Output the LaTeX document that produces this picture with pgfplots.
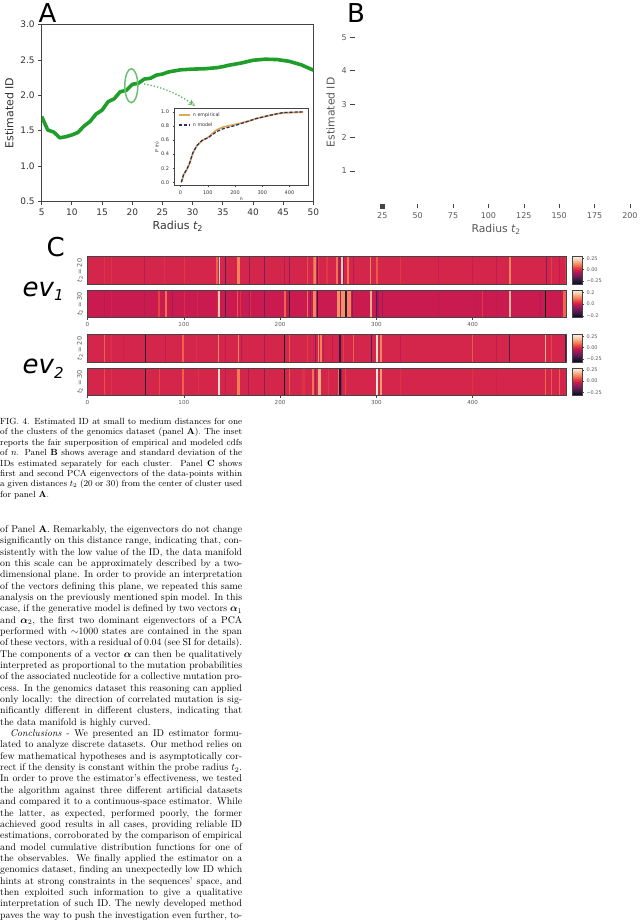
\documentclass[border=0pt]{standalone}
\usepackage{amsmath}
\usepackage{fontspec}
\usepackage{pgfplots}
\pgfplotsset{compat=1.18}
\usetikzlibrary{arrows.meta}
\newfontfamily\djs{DejaVu Sans}
\newcommand\djo{\djs\itshape}
\definecolor{lgreen}{HTML}{1F9E2A}
\definecolor{pgreen}{HTML}{6DBF74}
\definecolor{golden}{HTML}{D8AC55}
\definecolor{navy1}{HTML}{2B2A6E}
\definecolor{spine}{HTML}{444444}
\definecolor{gtext}{HTML}{333333}
\definecolor{btext}{HTML}{595959}
\pgfplotsset{colormap={rocket}{rgb255=(3,5,26) rgb255=(34,19,49) rgb255=(69,28,71) rgb255=(112,31,87) rgb255=(158,26,91) rgb255=(203,27,79) rgb255=(232,63,63) rgb255=(243,118,81) rgb255=(246,164,124) rgb255=(246,208,181) rgb255=(250,235,221)}}
\newcommand\fsz[1]{\fontsize{#1}{#1}\selectfont}
\newcommand\ttwo[1]{{\djo t}\raisebox{-0.18em}{\fsz{#1}2}}
\newcommand\mkstripes[2]{\gdef#1{}\foreach \x/\c in {#2}{\xdef#1{#1 (\x,0) [\c] (\x,1) [\c]}}}
\mkstripes\rowA{0/0,17/.02,18/0,25/.02,26/0,59/-.04,60/0,80/.02,81/0,100/.03,101/0,134/.08,135.5/0,136.5/.25,138/0,143/-.17,144.5/0,155/.12,159/0,167.5/-.1,169/0,184/-.13,185/0,204/-.05,205.5/0,210/-.1,211/0,228/.06,229/0,234/.08,235.5/.12,238/0,239/-.15,240/.03,241/0,248/.03,250/0,258/.1,260.5/-.05,263/-.25,264/.22,265.5/-.1,266.5/0,270/.1,271.5/0,276/-.05,277/0,294/.13,295/0,299.5/.07,301.5/0,325/.03,326/0,364/-.02,365/0,400/-.02,401/0,424/-.03,425/0,437.5/.12,440.5/0,476/-.13,477/0,482/.04,483/0,490/-.03,491/0,496/.03,497.7/0}
\mkstripes\rowB{0/0,17/-.015,18/0,25/.015,26/0,59/-.024,60/0,73.5/.05,75/0,81/.09,82.5/0,88/-.04,89/0,100/.024,101/0,114/.015,115/0,134.5/.024,136/.18,138/0,143/-.12,144.5/0,155/.07,156.5/0,158.5/.03,159.5/0,167.5/-.05,169/.03,170/0,184/-.08,185/0,204/.08,206/0,210/-.16,211/0,228/.09,229.5/0,231/-.055,232.5/0,234/.11,238/0,239/-.16,240/0,259.5/.12,262/-.04,263/-.22,264/.12,267.5/0,268/-.16,269.5/.11,273.5/0,275/-.06,276/0,294/.15,295.5/0,300/-.12,301/-.04,303/0,306/-.05,307/0,364/-.015,365/0,402.5/-.015,404/0,410/.04,411/0,424/-.015,425/0,437.5/.16,440.3/0,470/-.025,471/0,475.5/-.23,476.5/0,491/-.015,492/0,494.5/.08,497.7/0}
\mkstripes\rowC{0/0,17/.08,18/0,25/.02,26/0,37/-.01,38/0,60/-.25,61/0,81/-.03,82/0,98/.08,100/0,113/.02,114/0,135.5/.13,137/0,143/-.03,144/0,156/.12,158/0,159.5/-.05,160.5/0,184/-.07,185/0,204/-.3,205.5/0,210/.07,211/0,228/.04,229/0,236/-.1,237.5/0,239.5/.14,241/0,242/.12,243.5/0,244.5/-.03,245.5/0,254/-.03,255/0,261/-.22,263/0,266/.04,267/0,276/.08,277/0,295/-.18,296/0,299.5/.26,302/0,304.5/.12,306/0,325/-.03,326/0,400/.07,401/0,424/-.03,425/0,438/-.18,439.5/0,475.5/.18,476.5/0,482/.05,483/0,496/-.2,497.7/0}
\mkstripes\rowD{0/0,17/.06,18/0,25/.02,26/0,60/-.25,61/0,74/.05,75.5/0,98/.08,100/0,115/.02,116/0,136/.25,137.5/0,143/-.03,144/0,155/.11,158.5/0,167/-.06,168/0,184/-.1,185/0,204/-.3,205.5/0,210/.07,211/0,223/.02,226/0,233/.1,235/0,236.5/-.08,238/0,239.5/.17,243/0,250/.03,251/0,260/.1,261.5/-.27,263.5/-.08,264.5/0,268/.05,269/0,299.5/.28,301.5/0,304.5/.15,306/0,325/.02,326/0,400/.02,401/0,424/-.01,425/0,475.5/.09,476.5/0,482/.07,483/0,490/.08,491/0,497.7/0}
\def\hmplot#1{\addplot[surf,shader=flat corner,mesh/ordering=y varies,mesh/rows=2,point meta=explicit] coordinates {#1};}
\pgfplotsset{hm/.style={scale only axis,width=479.2pt,height=27.5pt,xmin=0,xmax=497.7,ymin=0,ymax=1,
  ytick=\empty,axis on top,axis line style={draw=spine,line width=.9pt},
  xtick=\empty,tick align=outside,major tick length=2.2pt,
  tick style={draw=spine,line width=.4pt},
  xtick pos=bottom,
  x tick label style={font=\djs\fsz{5.6},text=btext,yshift=1.5pt},
  /pgf/number format/assume math mode=true,
  colormap name=rocket,
  ylabel style={font=\djs\fsz{6.5},text=btext,at={(-0.008,0.5)},anchor=south,yshift=-3pt},
  colorbar,
  colorbar style={at={(1.0125,0)},anchor=south west,scale only axis,width=9.3pt,height=27.5pt,
    axis line style={draw=spine,line width=.7pt},
    ytick pos=right,tick align=outside,
    major tick length=2pt,tick style={draw=spine,line width=.4pt},
    y tick label style={font=\djs\fsz{5},text=btext,xshift=-1pt},
    yticklabel pos=right,
  },
}}
\newcommand\tl[3][0]{\node[anchor=base west,inner sep=0pt] at (#1pt,-#2pt) {\makebox[\dimexpr242pt-#1pt\relax][s]{#3}};}
\newcommand\tn[2]{\node[anchor=base west,inner sep=0pt] at (0pt,-#1pt) {#2};}
\begin{document}
\begin{tikzpicture}
\path[use as bounding box] (0pt,0pt) rectangle (640pt,-922pt);
% Panel A
\begin{axis}[at={(41.7pt,-201.5pt)},anchor=south west,scale only axis,width=271.7pt,height=177pt,
  xmin=5,xmax=50,ymin=0.5,ymax=3,xtick={5,10,...,50},ytick={0.5,1,...,3},
  y tick label style={/pgf/number format/fixed,/pgf/number format/fixed zerofill,/pgf/number format/precision=1},
  /pgf/number format/assume math mode=true,
  tick align=outside,xtick pos=bottom,ytick pos=left,major tick length=3.5pt,
  tick style={draw=spine,line width=.8pt},
  axis line style={draw=spine,line width=1.1pt},
  tick label style={font=\djs\fsz{9},text=gtext},
  xticklabel style={yshift=-0.5pt},
  xlabel={Radius \ttwo{8}},ylabel={Estimated ID},
  label style={font=\djs\fsz{11},text=gtext},
  xlabel style={yshift=2pt},ylabel style={yshift=0pt},
  clip=true]
\addplot[lgreen,line width=3.6pt,line join=round] coordinates {(5,1.70)(6,1.51)(7,1.48)(8,1.40)(9,1.415)(10,1.44)(11,1.475)(12,1.565)(13,1.63)(14,1.735)(15,1.79)(16,1.91)(17,1.95)(18,2.05)(19,2.07)(20,2.155)(21,2.17)(22,2.23)(23,2.24)(24,2.285)(25,2.30)(26,2.33)(27,2.345)(28,2.36)(29,2.365)(30,2.37)(32,2.375)(34,2.39)(35,2.405)(36,2.425)(38,2.455)(40,2.495)(42,2.51)(44,2.505)(46,2.48)(48,2.43)(50,2.355)};
\end{axis}
\draw[pgreen,line width=1.5pt] (131.3pt,-85.7pt) ellipse (6.5pt and 17pt);
\draw[lgreen!75!white,line width=1.3pt,dotted,-{Stealth[open,length=7pt,width=6pt,line width=.7pt]}] (144pt,-84pt) .. controls (163pt,-87pt) and (180pt,-95pt) .. (195pt,-106pt);
% Inset
\begin{axis}[at={(174.3pt,-185.3pt)},anchor=south west,scale only axis,width=134pt,height=77pt,
  xmin=-23,xmax=469,ymin=-0.043,ymax=1.05,xtick={0,100,200,300,400},ytick={0,0.2,0.4,0.6,0.8,1},
  y tick label style={/pgf/number format/fixed,/pgf/number format/fixed zerofill,/pgf/number format/precision=1},
  /pgf/number format/assume math mode=true,
  tick align=outside,xtick pos=bottom,ytick pos=left,major tick length=1.8pt,
  tick style={draw=spine,line width=.5pt},
  axis line style={draw=spine,line width=.8pt},
  tick label style={font=\djs\fsz{5},text=gtext},
  xlabel={n},ylabel={P (n)},
  label style={font=\djs\fsz{4.6},text=gtext},
  xlabel style={yshift=3.5pt},ylabel style={yshift=-5pt},
  legend cell align=left,legend style={draw=none,fill=none,at={(0.02,0.985)},anchor=north west,font=\djs\fsz{4.8},text=gtext,inner sep=1pt,row sep=0.6pt},
  legend image code/.code={\draw[#1] (0pt,0pt) -- (11pt,0pt);}]
\addplot[golden,line width=1.8pt] coordinates {(3,0)(11,.10)(23,.18)(33,.265)(45,.41)(60,.52)(78,.59)(102,.64)(133,.745)(157,.785)(200,.82)(243,.86)(279,.905)(316,.94)(352,.97)(377,.985)(450,.995)};
\addlegendentry{n empirical}
\addplot[navy1,line width=1.2pt,dash pattern=on 3.2pt off 1.8pt] coordinates {(3,0)(11,.11)(23,.185)(33,.27)(45,.42)(60,.52)(78,.59)(102,.635)(133,.72)(157,.76)(200,.805)(243,.86)(279,.905)(316,.94)(352,.97)(377,.99)(450,1.0)};
\addlegendentry{n model}
\end{axis}
% Panel B
\begin{axis}[at={(354.7pt,-204pt)},anchor=south west,scale only axis,width=282.3pt,height=183.4pt,
  xmin=5.5,xmax=205,ymin=0.012,ymax=5.5,xtick={25,50,...,200},ytick={1,2,3,4,5},
  axis line style={draw=none},clip=false,
  /pgf/number format/assume math mode=true,
  tick align=outside,xtick pos=bottom,ytick pos=left,major tick length=4.4pt,
  tick style={draw=spine,line width=.6pt},
  tick label style={font=\djs\fsz{8},text=btext},
  xticklabel style={yshift=-0.5pt},
  xlabel={Radius \ttwo{7.5}},ylabel={Estimated ID},
  label style={font=\djs\fsz{10.8},text=btext},
  xlabel style={yshift=1pt},ylabel style={yshift=0pt}]
\addplot[only marks,mark=square*,mark size=2.1pt,color=spine] coordinates {(25,-0.05)};
\end{axis}
% Panel C rows
\begin{axis}[hm,at={(87.5pt,-284.3pt)},anchor=south west,ylabel={\ttwo{5} = 20},
  point meta min=-0.323,point meta max=0.285,
  colorbar style={ytick={-0.25,0,0.25},yticklabels={−0.25,0.00,0.25}}]
\expandafter\hmplot\expandafter{\rowA}
\end{axis}
\begin{axis}[hm,at={(87.5pt,-317.7pt)},anchor=south west,ylabel={\ttwo{5} = 30},
  xtick={0,100,200,300,400},
  point meta min=-0.23,point meta max=0.234,
  colorbar style={ytick={-0.2,0,0.2},yticklabels={−0.2,0.0,0.2}}]
\expandafter\hmplot\expandafter{\rowB}
\end{axis}
\begin{axis}[hm,at={(87.5pt,-362.3pt)},anchor=south west,ylabel={\ttwo{5} = 20},
  point meta min=-0.323,point meta max=0.285,
  colorbar style={ytick={-0.25,0,0.25},yticklabels={−0.25,0.00,0.25}}]
\expandafter\hmplot\expandafter{\rowC}
\end{axis}
\begin{axis}[hm,at={(87.5pt,-395.7pt)},anchor=south west,ylabel={\ttwo{5} = 30},
  xtick={0,100,200,300,400},
  point meta min=-0.323,point meta max=0.285,
  colorbar style={ytick={-0.25,0,0.25},yticklabels={−0.25,0.00,0.25}}]
\expandafter\hmplot\expandafter{\rowD}
\end{axis}
% Panel letters
\node[anchor=base west,inner sep=0pt,font=\djs\fsz{26}] at (38.5pt,-22.7pt) {A};
\node[anchor=base west,inner sep=0pt,font=\djs\fsz{26}] at (347pt,-22.7pt) {B};
\node[anchor=base west,inner sep=0pt,font=\djs\fsz{26}] at (46.5pt,-256pt) {C};
\node[anchor=base west,inner sep=0pt,font=\djo\fsz{26}] at (22.5pt,-296pt) {ev\raisebox{-4.7pt}{\fsz{15}1}};
\node[anchor=base west,inner sep=0pt,font=\djo\fsz{26}] at (22.5pt,-373pt) {ev\raisebox{-5pt}{\fsz{15}2}};
% Caption
\begingroup\fsz{8.9}
\tl{424.5}{FIG. 4. Estimated ID at small to medium distances for one}
\tl{434.9}{of the clusters of the genomics dataset (panel \textbf{A}). The inset}
\tl{445.3}{reports the fair superposition of empirical and modeled cdfs}
\tl{455.7}{of $n$. Panel \textbf{B} shows average and standard deviation of the}
\tl{466.1}{IDs estimated separately for each cluster. Panel \textbf{C} shows}
\tl{476.5}{first and second PCA eigenvectors of the data-points within}
\tl{486.9}{a given distances $t_2$ (20 or 30) from the center of cluster used}
\tn{497.3}{for panel \textbf{A}.}
\endgroup
% Body
\begingroup\fsz{9.8}
\tl{532.5}{of Panel \textbf{A}. Remarkably, the eigenvectors do not change}
\tl{543.84}{significantly on this distance range, indicating that, con-}
\tl{555.18}{sistently with the low value of the ID, the data manifold}
\tl{566.52}{on this scale can be approximately described by a two-}
\tl{577.86}{dimensional plane. In order to provide an interpretation}
\tl{589.2}{of the vectors defining this plane, we repeated this same}
\tl{600.54}{analysis on the previously mentioned spin model. In this}
\tl{611.88}{case, if the generative model is defined by two vectors $\boldsymbol{\alpha}_1$}
\tl{623.22}{and $\boldsymbol{\alpha}_2$, the first two dominant eigenvectors of a PCA}
\tl{634.56}{performed with $\sim$1000 states are contained in the span}
\tl{645.9}{of these vectors, with a residual of 0.04 (see SI for details).}
\tl{657.24}{The components of a vector $\boldsymbol{\alpha}$ can then be qualitatively}
\tl{668.58}{interpreted as proportional to the mutation probabilities}
\tl{679.92}{of the associated nucleotide for a collective mutation pro-}
\tl{691.26}{cess. In the genomics dataset this reasoning can applied}
\tl{702.6}{only locally: the direction of correlated mutation is sig-}
\tl{713.94}{nificantly different in different clusters, indicating that}
\tn{725.28}{the data manifold is highly curved.}
\tl[10]{736.62}{\textit{Conclusions} - We presented an ID estimator formu-}
\tl{747.96}{lated to analyze discrete datasets. Our method relies on}
\tl{759.3}{few mathematical hypotheses and is asymptotically cor-}
\tl{770.64}{rect if the density is constant within the probe radius $t_2$.}
\tl{781.98}{In order to prove the estimator's effectiveness, we tested}
\tl{793.32}{the algorithm against three different artificial datasets}
\tl{804.66}{and compared it to a continuous-space estimator. While}
\tl{816}{the latter, as expected, performed poorly, the former}
\tl{827.34}{achieved good results in all cases, providing reliable ID}
\tl{838.68}{estimations, corroborated by the comparison of empirical}
\tl{850.02}{and model cumulative distribution functions for one of}
\tl{861.36}{the observables. We finally applied the estimator on a}
\tl{872.7}{genomics dataset, finding an unexpectedly low ID which}
\tl{884.04}{hints at strong constraints in the sequences' space, and}
\tl{895.38}{then exploited such information to give a qualitative}
\tl{906.72}{interpretation of such ID. The newly developed method}
\tl{918.06}{paves the way to push the investigation even further, to-}
\endgroup
\end{tikzpicture}
\end{document}
